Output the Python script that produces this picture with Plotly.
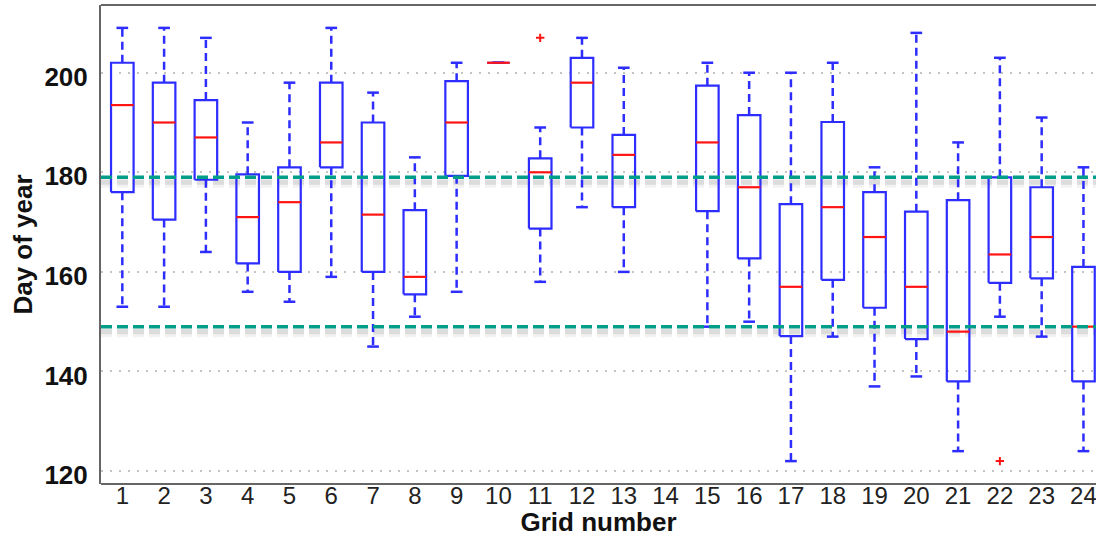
import plotly.graph_objects as go

# Box statistics per grid cell (day of year)
grid = list(range(1, 25))
upper_whisker = [209, 209, 207, 190, 198, 209, 196, 183, 202, 202, 189, 207,
                 201, None, 202, 200, 200, 202, 181, 208, 186, 203, 191, 181]
q3 = [202, 198, 194.5, 179.6, 181, 198, 190, 172.4, 198.3, 202, 182.8, 203,
      187.5, None, 197.4, 191.5, 173.6, 190.1, 176, 172.1, 174.4, 179, 177, 161]
median = [193.5, 190, 187, 171, 174, 186, 171.5, 159, 190, 202, 180, 198,
          183.5, None, 186, 177, 157, 173, 167, 157, 148, 163.5, 167, 149]
q1 = [176, 170.5, 178.5, 161.7, 160, 181, 160, 155.5, 179.3, 202, 168.7, 189,
      173, None, 172.2, 162.7, 147.1, 158.4, 152.8, 146.5, 138, 157.8, 158.7, 138]
lower_whisker = [153, 153, 164, 156, 154, 159, 145, 151, 156, 202, 158, 173,
                 160, None, 149, 150, 122, 147, 137, 139, 124, 151, 147, 124]
outlier_grid = [11, 22]
outlier_day = [207, 122]
reference_days = [179, 149]
y_ticks = [120, 140, 160, 180, 200]

BOX_HALF = 0.27
CAP_HALF = 0.14
BLUE = "rgb(45,45,255)"
RED = "rgb(255,20,20)"
TEAL = "rgb(0,158,136)"
FRAME = "#666"

box_x, box_y = [], []
wh_x, wh_y = [], []
cap_x, cap_y = [], []
med_x, med_y = [], []
for g, hi, a, m, b, lo in zip(grid, upper_whisker, q3, median, q1, lower_whisker):
    if m is None:
        continue
    box_x += [g - BOX_HALF, g + BOX_HALF, g + BOX_HALF, g - BOX_HALF, g - BOX_HALF, None]
    box_y += [b, b, a, a, b, None]
    wh_x += [g, g, None, g, g, None]
    wh_y += [a, hi, None, b, lo, None]
    cap_x += [g - CAP_HALF, g + CAP_HALF, None, g - CAP_HALF, g + CAP_HALF, None]
    cap_y += [hi, hi, None, lo, lo, None]
    med_x += [g - BOX_HALF, g + BOX_HALF, None]
    med_y += [m, m, None]

fig = go.Figure()
fig.add_trace(go.Scatter(x=wh_x, y=wh_y, mode="lines",
                         line=dict(color=BLUE, width=2.5, dash="8px,5px"), hoverinfo="skip"))
fig.add_trace(go.Scatter(x=cap_x, y=cap_y, mode="lines",
                         line=dict(color=BLUE, width=2.5), hoverinfo="skip"))
fig.add_trace(go.Scatter(x=box_x, y=box_y, mode="lines",
                         line=dict(color=BLUE, width=2.2), hoverinfo="skip"))
fig.add_trace(go.Scatter(x=med_x, y=med_y, mode="lines",
                         line=dict(color=RED, width=2.2), hoverinfo="skip"))
fig.add_trace(go.Scatter(x=outlier_grid, y=outlier_day, mode="markers",
                         marker=dict(symbol="cross-thin", size=6, color=RED,
                                     line=dict(color=RED, width=2)), hoverinfo="skip"))

# Reference day lines with a soft drop shadow
for d in reference_days:
    fig.add_shape(type="line", xref="paper", x0=0, x1=1, yref="y",
                  ysizemode="pixel", yanchor=d, y0=-6, y1=-6,
                  line=dict(color="rgba(0,0,0,0.05)", width=9, dash="11px,5px"), layer="below")
    fig.add_shape(type="line", xref="paper", x0=0, x1=1, yref="y",
                  ysizemode="pixel", yanchor=d, y0=-5, y1=-5,
                  line=dict(color="rgba(0,0,0,0.09)", width=5, dash="11px,5px"), layer="below")
    fig.add_shape(type="line", xref="paper", x0=0, x1=1, yref="y", y0=d, y1=d,
                  line=dict(color=TEAL, width=3.5, dash="11px,5px"), layer="above")

# Top and bottom frame lines
for yp in (0, 1):
    fig.add_shape(type="line", xref="paper", yref="paper", x0=0, x1=1, y0=yp, y1=yp,
                  line=dict(color=FRAME, width=2), layer="above")

fig.update_layout(
    width=1096, height=537,
    margin=dict(l=101, r=0, t=5, b=53),
    paper_bgcolor="white", plot_bgcolor="white",
    showlegend=False,
    font=dict(family="Liberation Sans, Arial, sans-serif", color="#111"),
)
fig.update_xaxes(
    range=[0.49, 24.3], tickvals=grid, ticktext=[str(g) for g in grid],
    anchor="free", position=0.01,
    showgrid=False, zeroline=False, showline=False,
    tickfont=dict(size=24, color="#222"), ticks="", ticklabeloverflow="allow",
    title=dict(text="<b>Grid number</b>", font=dict(size=26, color="#111"), standoff=2),
)
fig.update_yaxes(
    range=[117.4, 213.6], tickvals=y_ticks, ticktext=[str(v) for v in y_ticks],
    showgrid=True, gridcolor="#c4c4c4", griddash="2px,7px", gridwidth=1.5,
    zeroline=False, showline=True, linecolor=FRAME, linewidth=2,
    tickfont=dict(size=26, color="#111", weight="bold"), ticks="", ticklabelstandoff=6,
    ticklabelshift=4,
    title=dict(text="<b>Day of year</b>", font=dict(size=26, color="#111"), standoff=4),
)

fig.write_html("out.html")
